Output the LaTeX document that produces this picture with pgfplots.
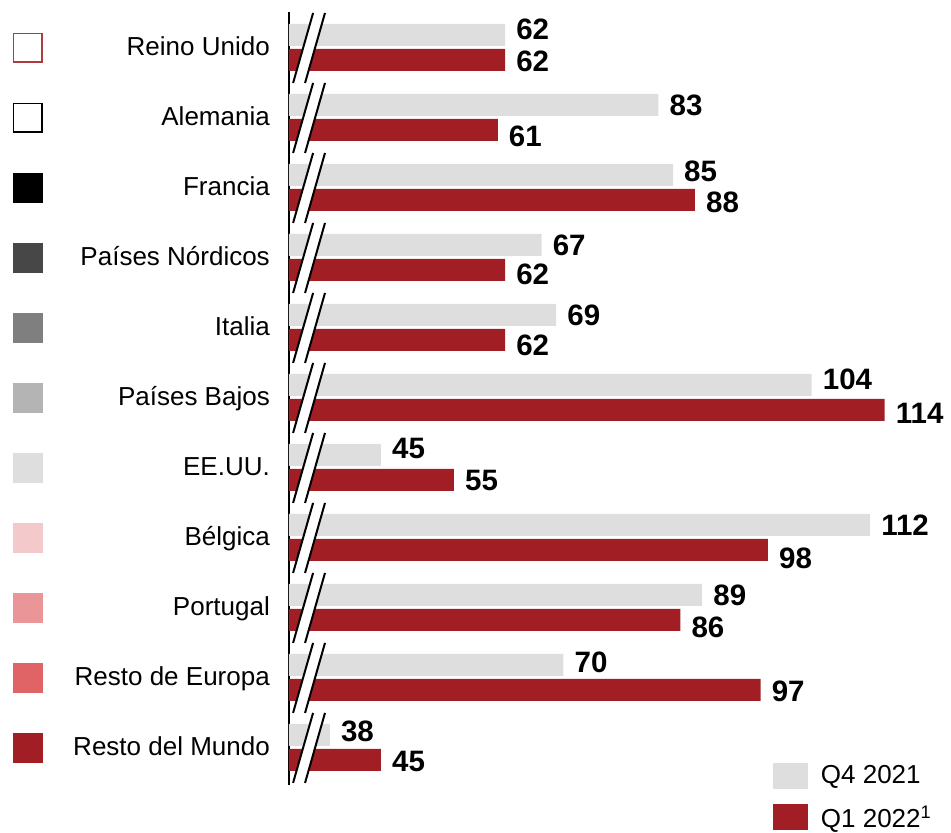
\documentclass[border=0pt]{standalone}
\usepackage{pgfplots}
\pgfplotsset{compat=1.18}
\usepackage{pgfplotstable}
\usepackage{fontspec}
\setmainfont{Liberation Sans}
\definecolor{barGray}{HTML}{DEDEDE}
\definecolor{barRed}{HTML}{A11F24}
\definecolor{cA}{HTML}{474747}
\definecolor{cB}{HTML}{7F7F7F}
\definecolor{cC}{HTML}{B4B4B4}
\definecolor{cD}{HTML}{DEDEDE}
\definecolor{cE}{HTML}{F4C9CB}
\definecolor{cF}{HTML}{EA9699}
\definecolor{cG}{HTML}{E06466}
\definecolor{cR}{HTML}{B03A3D}
\newcommand{\sq}[2]{\raisebox{-5.7pt}{\setlength\fboxsep{0pt}\setlength\fboxrule{1.5pt}\fcolorbox{#1}{#2}{\rule{0pt}{27pt}\hspace{27pt}}}}
\newcommand{\cat}[3]{\makebox[257pt]{\sq{#1}{#2}\hfill #3}}
% y: position (top=10); q4/q1: values; dq4/dq1: label vertical offsets (pt, up positive)
\pgfplotstableread{
y q4 q1 dq4 dq1
10 62 62 5.5 -1
9 83 61 0 -6
8 85 88 4 -2
7 67 62 0 -4
6 69 62 0 -5
5 104 114 6 -3
4 45 55 6 -1
3 112 98 0 -8
2 89 86 0 -7
1 70 97 3 -1.5
0 38 45 4 -2
}\data
\begin{document}
\begin{tikzpicture}
\useasboundingbox (0,0) rectangle (951pt,-833pt);
\begin{axis}[
  at={(289pt,-12pt)}, anchor=north west,
  scale only axis, width=662pt, height=773pt,
  xmin=32.4, xmax=123.08,
  ymin=-0.53, ymax=10.514,
  xbar, bar width=22pt,
  axis x line=none, axis y line*=left,
  y axis line style={line width=2pt, -},
  ytick={0,...,10},
  major tick length=0pt,
  yticklabels={
    {\cat{barRed}{barRed}{Resto del Mundo}},
    {\cat{cG}{cG}{Resto de Europa}},
    {\cat{cF}{cF}{Portugal}},
    {\cat{cE}{cE}{Bélgica}},
    {\cat{cD}{cD}{EE.UU.}},
    {\cat{cC}{cC}{Países Bajos}},
    {\cat{cB}{cB}{Italia}},
    {\cat{cA}{cA}{Países Nórdicos}},
    {\cat{black}{black}{Francia}},
    {\cat{black}{white}{Alemania}},
    {\cat{cR}{white}{Reino Unido}}
  },
  yticklabel style={anchor=east, inner sep=0pt, xshift=-19pt, font=\fontsize{26}{30}\selectfont},
  point meta=explicit symbolic,
  legend style={at={(0.731,0.029)}, anchor=north west, draw=none, fill=none, inner sep=0pt, outer sep=0pt,
    font=\fontsize{26}{30}\selectfont, row sep=15pt, column sep=11pt},
  legend image code/.code={\fill[#1] (0pt,-13pt) rectangle (35pt,13pt);},
  legend cell align=left,
]
\addplot[fill=barGray, draw=none, bar shift=13pt,
  visualization depends on={\thisrow{dq4} \as \dy},
  nodes near coords,
  nodes near coords style={anchor=west, inner sep=0pt, xshift=11pt, yshift=\dy pt, font=\fontsize{29.5}{33}\selectfont\bfseries, text=black}]
  table[x=q4, y=y, meta=q4]{\data};
\addplot[fill=barRed, draw=none, bar shift=-12pt,
  visualization depends on={\thisrow{dq1} \as \dy},
  nodes near coords,
  nodes near coords style={anchor=west, inner sep=0pt, xshift=11pt, yshift=\dy pt, font=\fontsize{29.5}{33}\selectfont\bfseries, text=black}]
  table[x=q1, y=y, meta=q1]{\data};
\legend{Q4 2021, Q1 2022\textsuperscript{1}}
\pgfplotsinvokeforeach{0,...,10}{
  \fill[white] (axis cs:32.96,{#1-0.5}) -- (axis cs:35.70,{#1+0.5}) -- (axis cs:37.33,{#1+0.5}) -- (axis cs:34.60,{#1-0.5}) -- cycle;
  \draw[line width=2pt] (axis cs:32.96,{#1-0.5}) -- (axis cs:35.70,{#1+0.5});
  \draw[line width=2pt] (axis cs:34.60,{#1-0.5}) -- (axis cs:37.33,{#1+0.5});
}
\end{axis}
\end{tikzpicture}
\end{document}
